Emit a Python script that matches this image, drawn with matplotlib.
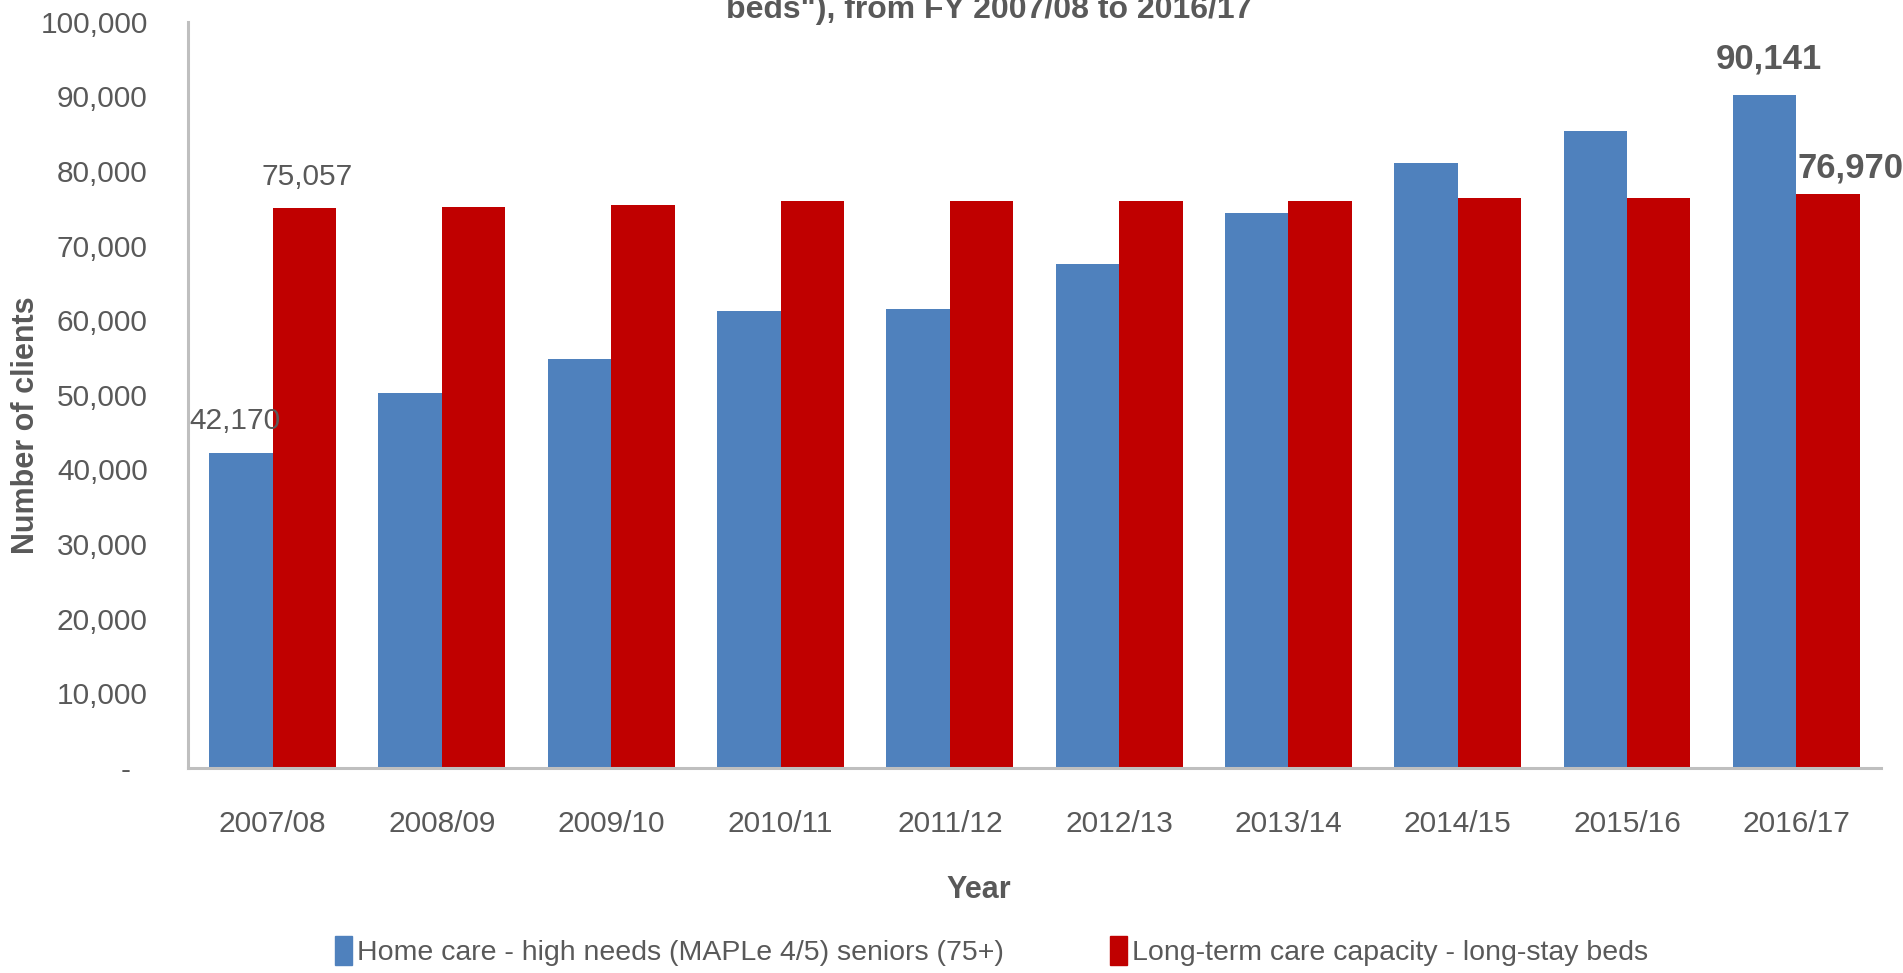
import matplotlib
matplotlib.use("Agg")
import matplotlib.pyplot as plt
import numpy as np
from matplotlib.patches import Patch

years = ["2007/08", "2008/09", "2009/10", "2010/11", "2011/12",
         "2012/13", "2013/14", "2014/15", "2015/16", "2016/17"]
home_care = [42170, 50300, 54800, 61200, 61500, 67500, 74300, 81000, 85300, 90141]
ltc_beds = [75057, 75170, 75440, 75930, 75930, 75930, 75930, 76380, 76380, 76970]
y_ticks = [0, 10000, 20000, 30000, 40000, 50000, 60000, 70000, 80000, 90000, 100000]

series_names = ["Home care - high needs (MAPLe 4/5) seniors (75+)",
                "Long-term care capacity - long-stay beds"]

BLUE = "#4F81BD"
RED = "#C00000"
TXT = "#595959"

plt.rcParams["font.family"] = ["Liberation Sans Narrow", "Liberation Sans", "DejaVu Sans"]

fig = plt.figure(figsize=(19.03, 9.73), dpi=100)
ax = fig.add_axes([0.0988, 0.2107, 0.8896, 0.767])

x = np.arange(len(years))
w = 0.375
b1 = ax.bar(x - w / 2, home_care, w, color=BLUE)
b2 = ax.bar(x + w / 2, ltc_beds, w, color=RED)

ax.set_xlim(-0.5, len(years) - 0.5)
ax.set_ylim(0, 100000)
ax.set_yticks(y_ticks)
ax.set_yticklabels([f"{v:,}" if v else "-  " for v in y_ticks])
ax.set_xticks(x)
ax.set_xticklabels(years)
ax.tick_params(axis="both", length=0, colors=TXT, labelsize=21.5)
ax.tick_params(axis="y", pad=29)
ax.tick_params(axis="x", pad=30)

for side in ["top", "right"]:
    ax.spines[side].set_visible(False)
for side in ["left", "bottom"]:
    ax.spines[side].set_color("#BFBFBF")
    ax.spines[side].set_linewidth(2.2)

ax.set_ylabel("Number of clients", fontsize=22, fontweight="bold", color=TXT)
ax.yaxis.set_label_coords(-0.087, 0.46)
ax.set_xlabel("Year", fontsize=22, fontweight="bold", color=TXT)
ax.xaxis.set_label_coords(0.467, -0.143)

# value labels on the first and last year
def label(bar, val, dx, dy, bold):
    ax.annotate(f"{val:,}", (bar.get_x() + bar.get_width() / 2, val),
                xytext=(dx, dy), textcoords="offset pixels",
                ha="center", va="center", color=TXT,
                fontsize=25 if bold else 21.5,
                fontweight="bold" if bold else "normal")

label(b1[0], home_care[0], -6, 32, False)
label(b2[0], ltc_beds[0], 3, 31, False)
label(b1[-1], home_care[-1], 4, 36, True)
label(b2[-1], ltc_beds[-1], 22, 26, True)

fig.text(0.52, 1 - 18 / 973, 'beds"), from FY 2007/08 to 2016/17',
         ha="center", va="baseline", fontsize=23, fontweight="bold", color=TXT)

handles = [Patch(color=BLUE), Patch(color=RED)]
fig.legend(handles, series_names, loc="center", bbox_to_anchor=(0.521, 1 - 951 / 973),
           ncol=2, frameon=False, fontsize=20.5, labelcolor=TXT,
           handlelength=0.6, handleheight=1.2, handletextpad=0.2, columnspacing=3.7)

fig.savefig("out.png", dpi=100)
